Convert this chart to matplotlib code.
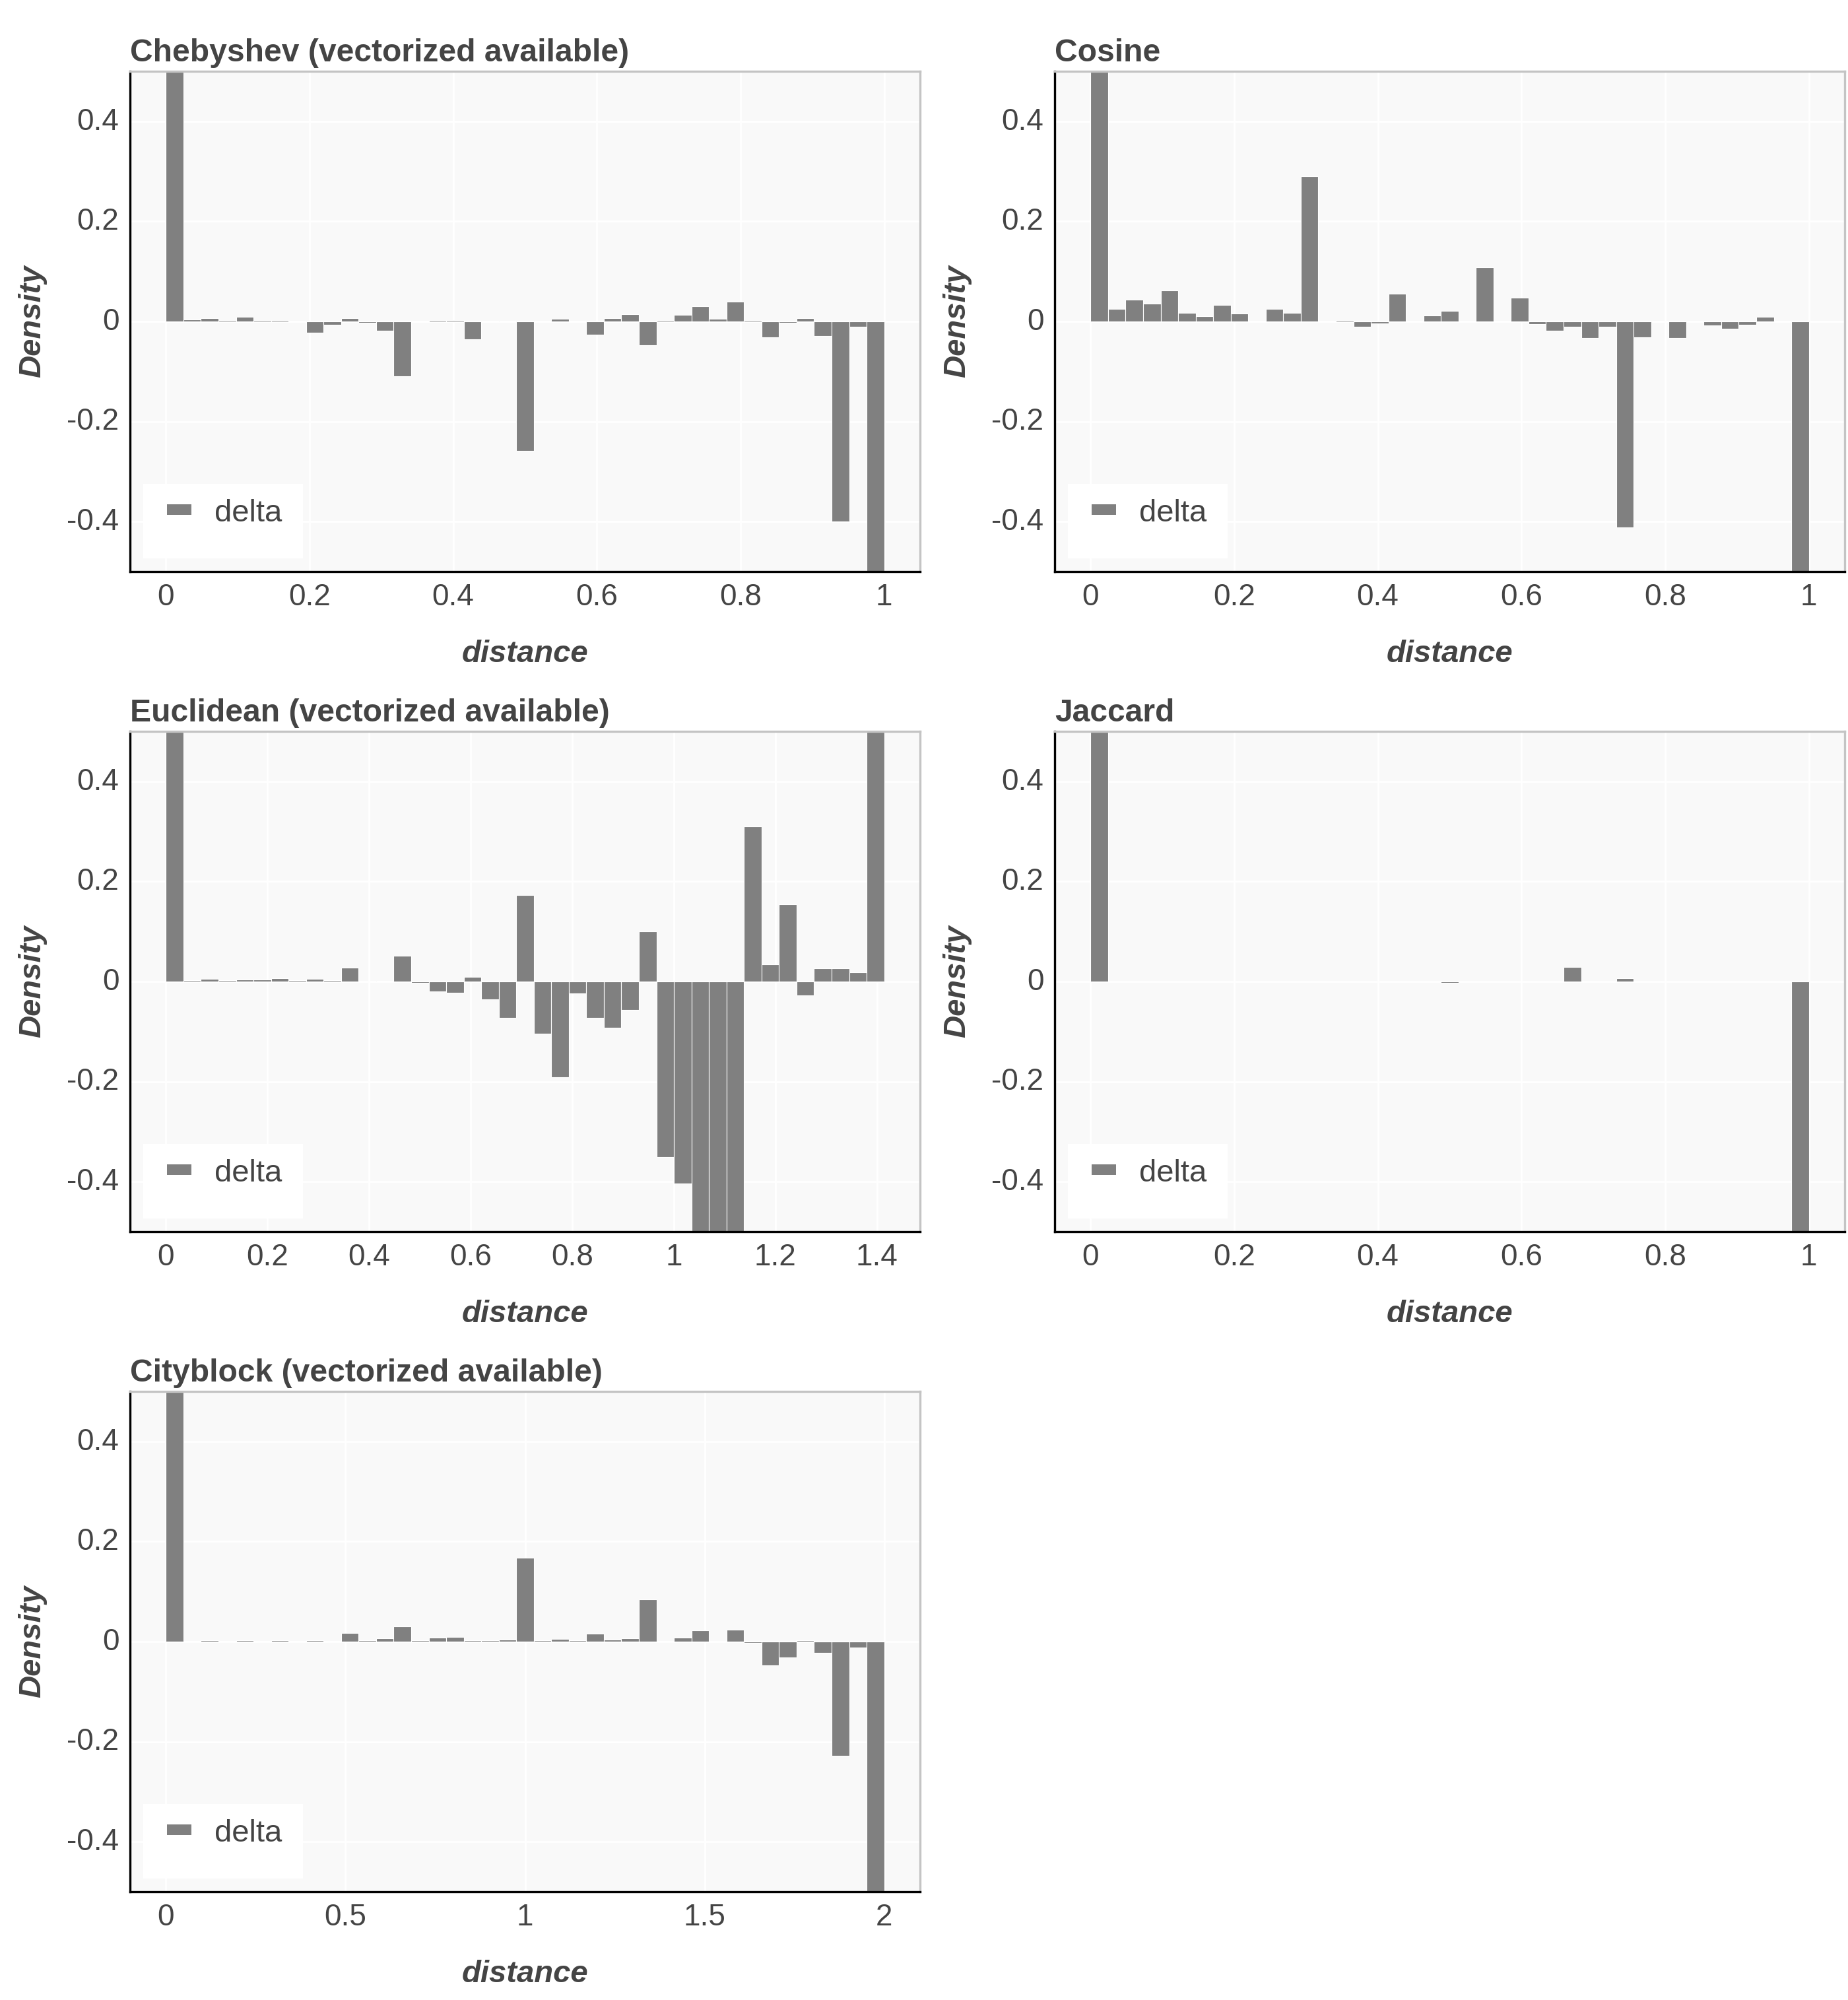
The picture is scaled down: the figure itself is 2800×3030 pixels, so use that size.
import numpy as np
import matplotlib.pyplot as plt
import matplotlib.transforms as mtransforms
from matplotlib.patches import Rectangle

plt.rcParams['font.family'] = ['Liberation Sans', 'DejaVu Sans']

# density delta per bin (41 bins per panel); first/last bins run past the +-0.5 view
titles = ['Chebyshev (vectorized available)', 'Cosine',
          'Euclidean (vectorized available)', 'Jaccard',
          'Cityblock (vectorized available)']
max_dist = [1.0, 1.0, np.sqrt(2), 1.0, 2.0]

chebyshev = [0.95, 0.004, 0.007, 0.003, 0.009, 0.002, 0.003, 0.0, -0.022, -0.007,
             0.007, -0.003, -0.019, -0.109, 0.0, 0.003, 0.002, -0.036, 0.0, 0.001,
             -0.258, 0.0, 0.005, 0.0, -0.027, 0.006, 0.014, -0.047, 0.003, 0.013,
             0.031, 0.005, 0.039, 0.002, -0.032, -0.003, 0.007, -0.029, -0.40, -0.011,
             -0.78]
cosine = [0.85, 0.025, 0.044, 0.035, 0.062, 0.017, 0.011, 0.033, 0.016, 0.0,
          0.025, 0.017, 0.290, 0.0, 0.003, -0.011, -0.004, 0.056, 0.0, 0.012,
          0.021, 0.001, 0.108, -0.0005, 0.047, -0.005, -0.018, -0.011, -0.033, -0.011,
          -0.411, -0.032, 0.0005, -0.033, 0.0, -0.008, -0.015, -0.007, 0.009, 0.001,
          -0.72]
euclidean = [0.90, 0.003, 0.005, 0.003, 0.004, 0.004, 0.006, 0.002, 0.005, 0.002,
             0.028, 0.0, 0.0007, 0.051, -0.003, -0.020, -0.023, 0.009, -0.035, -0.073,
             0.173, -0.104, -0.191, -0.024, -0.073, -0.092, -0.057, 0.100, -0.351, -0.404,
             -0.62, -0.66, -0.58, 0.310, 0.034, 0.154, -0.028, 0.026, 0.026, 0.019,
             0.70]
jaccard = [0.97, 0.0, 0.0, 0.0, 0.0, 0.0, 0.0, 0.0, 0.0, 0.0,
           0.0, 0.0, 0.0, 0.0, 0.0, 0.0, 0.0, 0.0, 0.0, 0.0,
           -0.002, 0.0, 0.0, 0.0, 0.0, 0.0, 0.0, 0.029, 0.0, 0.0,
           0.006, 0.0, 0.0, 0.0, 0.0, 0.0, 0.0, 0.0, 0.0, 0.0,
           -0.96]
cityblock = [0.90, 0.0007, 0.003, 0.0007, 0.003, 0.001, 0.003, 0.001, 0.002, 0.0007,
             0.017, 0.002, 0.006, 0.030, 0.002, 0.008, 0.009, 0.003, 0.003, 0.004,
             0.167, 0.002, 0.005, 0.002, 0.016, 0.004, 0.007, 0.084, 0.0007, 0.008,
             0.022, 0.0003, 0.024, -0.003, -0.047, -0.032, 0.002, -0.022, -0.228, -0.012,
             -0.75]
deltas = [chebyshev, cosine, euclidean, jaccard, cityblock]

xticks = [[0, 0.2, 0.4, 0.6, 0.8, 1],
          [0, 0.2, 0.4, 0.6, 0.8, 1],
          [0, 0.2, 0.4, 0.6, 0.8, 1, 1.2, 1.4],
          [0, 0.2, 0.4, 0.6, 0.8, 1],
          [0, 0.5, 1, 1.5, 2]]
xticklabels = [['0', '0.2', '0.4', '0.6', '0.8', '1'],
               ['0', '0.2', '0.4', '0.6', '0.8', '1'],
               ['0', '0.2', '0.4', '0.6', '0.8', '1', '1.2', '1.4'],
               ['0', '0.2', '0.4', '0.6', '0.8', '1'],
               ['0', '0.5', '1', '1.5', '2']]
yticks = [0.4, 0.2, 0, -0.2, -0.4]
yticklabels = ['0.4', '0.2', '0', '-0.2', '-0.4']

text_col = '#444444'
bar_col = '#808080'
W, H = 2800, 3030
lefts = [197, 1598]
bottoms = [866, 1866, 2866]
aw, ah = 1197, 758

fig = plt.figure(figsize=(14, 15.15), dpi=200)
lift = mtransforms.ScaledTranslation(0, 1.5 / 72, fig.dpi_scale_trans)

for k in range(5):
    row, col = k // 2, k % 2
    ax = fig.add_axes([lefts[col] / W, 1 - bottoms[row] / H, aw / W, ah / H])
    ax.set_facecolor('#f9f9f9')
    ax.set_axisbelow(True)
    ax.grid(True, color='white', linewidth=1.0)

    edges = np.linspace(0, max_dist[k], len(deltas[k]) + 1)
    ax.bar(edges[:-1], deltas[k], width=np.diff(edges), align='edge',
           color=bar_col, edgecolor='white', linewidth=0.4, zorder=2)

    ax.set_xlim(-0.05 * max_dist[k], 1.05 * max_dist[k])
    ax.set_ylim(-0.5, 0.5)
    ax.set_xticks(xticks[k])
    ax.set_xticklabels(xticklabels[k])
    ax.set_yticks(yticks)
    ax.set_yticklabels(yticklabels)
    ax.tick_params(length=0, labelsize=16.5, labelcolor=text_col, pad=6)
    for lab in ax.get_yticklabels():
        lab.set_transform(lab.get_transform() + lift)

    for s in ['left', 'bottom']:
        ax.spines[s].set_color('black')
        ax.spines[s].set_linewidth(1.2)
    for s in ['top', 'right']:
        ax.spines[s].set_color('#c4c4c4')
        ax.spines[s].set_linewidth(1.2)

    ax.set_title(titles[k], loc='left', fontsize=17.3, fontweight='bold',
                 color=text_col, pad=5.5)
    ax.text(0.5, -0.181, 'distance', transform=ax.transAxes, ha='center',
            va='baseline', fontsize=17, fontweight='bold', fontstyle='italic',
            color=text_col)
    ax.text(-0.1236, 0.5, 'Density', transform=ax.transAxes, rotation=90,
            ha='center', va='center', fontsize=17, fontweight='bold',
            fontstyle='italic', color=text_col)

    # legend box
    ax.add_patch(Rectangle((0.0167, 0.026), 0.202, 0.150, transform=ax.transAxes,
                           facecolor='white', edgecolor='none', zorder=3))
    ax.add_patch(Rectangle((0.047, 0.114), 0.031, 0.020, transform=ax.transAxes,
                           facecolor=bar_col, edgecolor='none', zorder=4))
    ax.text(0.107, 0.100, 'delta', transform=ax.transAxes, va='baseline',
            fontsize=17, color=text_col, zorder=5)

fig.savefig('out.png', dpi=200)
